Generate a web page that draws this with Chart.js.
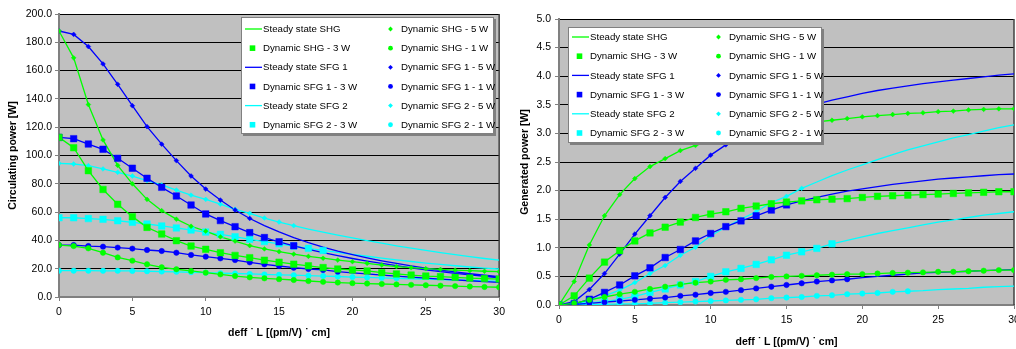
<!DOCTYPE html>
<html><head><meta charset="utf-8">
<script src="https://cdn.jsdelivr.net/npm/chart.js@4.4.1/dist/chart.umd.min.js"></script>
<style>
html,body{margin:0;padding:0;background:#fff;width:1016px;height:349px;overflow:hidden;position:relative}
#c1{position:absolute;left:0;top:0}
#c2{position:absolute;left:510px;top:0}
</style></head><body>
<canvas id="c1" width="510" height="349"></canvas>
<canvas id="c2" width="516" height="349"></canvas>
<script>
// ---------- data ----------
const xValues = [0,1,2,3,4,5,6,7,8,9,10,11,12,13,14,15,16,17,18,19,20,21,22,23,24,25,26,27,28,29,30];
const xTickLabels = [0,5,10,15,20,25,30];
const circTickLabels = [0,20,40,60,80,100,120,140,160,180,200];
const genTickLabels = [0,0.5,1,1.5,2,2.5,3,3.5,4,4.5,5];

// Circulating power [W] (left panel)
const circSHG5 = [188,169,136,111,93,80,69,61,55,50,46.5,42.5,39.5,36.3,34,32,30.3,28.7,27.4,26.1,25,23.8,22.6,21.5,20.7,20,19.5,19,18.6,18.2,17.9];
const circSHG3 = [112.8,105.5,89.3,76,65.5,56.8,49.2,44.5,39.8,36,33.7,31.3,29.4,27.8,26,24.6,23.2,22,20.8,19.8,19.1,18.4,17.2,16.3,15.5,14.8,14.4,13.9,13.4,13,12.7];
const circSHG1 = [36.7,36,34.4,31.3,28,25.7,23.1,21,19.6,18.4,17.2,16,14.8,13.9,13.2,12.6,12,11.3,10.7,10.2,9.8,9.5,9.2,8.9,8.6,8.3,8,7.7,7.4,7.1,6.9];
const circSFG1_5 = [188,185.6,177,164.7,150.3,135.2,120.4,108,96.4,85.5,76.3,68.5,61.5,55.5,50.5,46,42,38.5,35.3,32.5,30,27.7,25.6,23.7,22,20.4,19,17.7,16.5,15.4,14.4];
const circSFG1_3 = [112.8,111.9,108.1,104.4,98,91,83.9,77.5,71.4,65,58.7,54,49.7,45.5,42,39,36.2,33.6,31.3,29.2,27.2,25.4,23.7,22.1,20.6,19.2,17.9,16.7,15.6,14.6,13.6];
const circSFG1_1 = [36.7,36.7,36,35.6,34.9,34.2,33.2,32.5,31.3,29.7,28.5,27.3,26.1,24.5,23.1,21.9,20.7,19.8,19.1,17.9,17.1,16.3,15.5,14.8,14.1,13.4,12.7,12.1,11.5,10.9,10.3];
const circSFG2_5 = [94.5,94,92.8,90.5,88.1,85.5,82.2,79.2,75.6,72,69,65.6,62,59.1,55.8,53,50.4,48,45.8,43.8,41.8,39.8,38,36.2,34.5,32.9,31.3,29.9,28.5,27.2,26];
const circSFG2_3 = [56,56,55.4,54.9,53.9,52.8,51.6,50.2,48.8,47.3,45.9,44.3,42.6,40.8,39.2,37.6,36,34.4,32.9,31.5,30.1,28.8,27.5,26.3,25.1,24,23,22.1,21.2,20.4,19.8];
const circSFG2_1 = [18.6,18.6,18.6,18.5,18.5,18.4,18.2,18,17.8,17.5,17.2,16.9,16.6,16.3,16,15.7,15.4,15.1,14.8,14.5,14.1,13.8,13.5,13.2,12.9,12.6,12.3,12,11.7,11.4,11.1];

// Generated power [W] (right panel)
const genSHG5 = [0,0.41,1.05,1.56,1.93,2.21,2.42,2.56,2.7,2.79,2.87,2.94,3.0,3.05,3.1,3.14,3.17,3.2,3.23,3.26,3.29,3.31,3.33,3.35,3.36,3.38,3.39,3.41,3.42,3.43,3.43];
const genSHG3 = [0,0.16,0.47,0.75,0.95,1.12,1.26,1.36,1.45,1.53,1.59,1.63,1.69,1.73,1.77,1.8,1.82,1.84,1.85,1.86,1.88,1.9,1.91,1.92,1.93,1.94,1.95,1.96,1.97,1.98,1.98];
const genSHG1 = [0,0.03,0.09,0.14,0.19,0.23,0.28,0.32,0.36,0.39,0.41,0.44,0.45,0.47,0.49,0.5,0.51,0.52,0.53,0.54,0.54,0.55,0.56,0.565,0.57,0.58,0.58,0.59,0.6,0.61,0.61];
const genSFG1_5 = [0,0.06,0.27,0.55,0.89,1.24,1.56,1.88,2.16,2.39,2.62,2.8,2.95,3.1,3.22,3.33,3.43,3.51,3.58,3.64,3.7,3.75,3.79,3.83,3.87,3.9,3.93,3.96,3.99,4.02,4.04];
const genSFG1_3 = [0,0.02,0.1,0.22,0.35,0.51,0.65,0.83,0.97,1.12,1.25,1.37,1.47,1.56,1.66,1.75,1.82,1.88,1.94,1.99,2.03,2.07,2.11,2.14,2.17,2.2,2.22,2.24,2.26,2.28,2.29];
const genSFG1_1 = [0,0.01,0.03,0.05,0.07,0.09,0.11,0.13,0.16,0.18,0.21,0.23,0.26,0.29,0.32,0.35,0.38,0.41,0.43,0.45,0.48,0.5,0.52,0.54,0.56,0.57,0.58,0.59,0.6,0.61,0.62];
const genSFG2_5 = [0,0.02,0.08,0.16,0.26,0.39,0.55,0.69,0.87,1.01,1.21,1.36,1.5,1.63,1.79,1.9,2.04,2.15,2.26,2.36,2.45,2.54,2.63,2.71,2.78,2.85,2.92,2.98,3.04,3.1,3.15];
const genSFG2_3 = [0,0.02,0.04,0.06,0.1,0.15,0.22,0.28,0.35,0.41,0.5,0.58,0.64,0.71,0.79,0.87,0.93,0.99,1.07,1.13,1.19,1.25,1.3,1.35,1.4,1.45,1.49,1.53,1.57,1.6,1.63];
const genSFG2_1 = [0,0,0.01,0.01,0.02,0.02,0.03,0.04,0.05,0.06,0.07,0.08,0.09,0.1,0.12,0.13,0.14,0.16,0.17,0.19,0.2,0.21,0.23,0.24,0.25,0.27,0.28,0.29,0.31,0.32,0.33];

// last x index for which dynamic (marker) points exist: [5 W, 3 W, 1 W]
const circMarkerLast = {SHG:[30,30,30], SFG1:[13,16,19], SFG2:[16,18,23]};
const genMarkerLast  = {SHG:[30,30,30], SFG1:[11,15,19], SFG2:[16,18,23]};

const seriesNames = {SHG:'SHG', SFG1:'SFG 1', SFG2:'SFG 2'};
const powerNames = ['5 W','3 W','1 W'];
const xTitle = 'deff ˙ L [(pm/V) ˙ cm]';

// ---------- style ----------
const FONT = "'Liberation Sans', Arial, sans-serif";
const COLORS = {SHG:'#00ff00', SFG1:'#0000ff', SFG2:'#00ffff'};
const PSTYLE = ['rectRot','rect','circle'];
const PRADIUS = [2.4,4.6,2.7];

function pts(arr){ return xValues.map((x,i)=>({x:x, y:arr[i]})); }
function steady(list){
  const out=[];
  list.forEach((arr,k)=>{ if(k) out.push({x:30,y:null}); pts(arr).forEach(p=>out.push(p)); });
  return out;
}
function buildDatasets(curves, last){
  const ds=[];
  ['SHG','SFG1','SFG2'].forEach(key=>{
    const col = COLORS[key];
    ds.push({label:'Steady state '+seriesNames[key], data:steady(curves[key]), showLine:true,
      borderColor:col, backgroundColor:col, borderWidth:1.3, pointRadius:0, pointHoverRadius:0,
      spanGaps:false, order:10, _kind:'line'});
    curves[key].forEach((arr,k)=>{
      ds.push({label:'Dynamic '+seriesNames[key]+' - '+powerNames[k], data:pts(arr).slice(0,last[key][k]+1),
        showLine:false, pointStyle:PSTYLE[k], pointRadius:PRADIUS[k], pointHoverRadius:PRADIUS[k],
        backgroundColor:col, borderColor:col, borderWidth:0.5, order:1, _kind:k});
    });
  });
  return ds;
}

const legendCols = [
  ['Steady state SHG','Dynamic SHG - 3 W','Steady state SFG 1','Dynamic SFG 1 - 3 W','Steady state SFG 2','Dynamic SFG 2 - 3 W'],
  ['Dynamic SHG - 5 W','Dynamic SHG - 1 W','Dynamic SFG 1 - 5 W','Dynamic SFG 1 - 1 W','Dynamic SFG 2 - 5 W','Dynamic SFG 2 - 1 W']
];

function drawMarker(ctx, kind, x, y){
  ctx.beginPath();
  if(kind===0){ const r=2.4; ctx.moveTo(x,y-r); ctx.lineTo(x+r,y); ctx.lineTo(x,y+r); ctx.lineTo(x-r,y); ctx.closePath(); }
  else if(kind===1){ const s=2.8; ctx.rect(x-s,y-s,2*s,2*s); }
  else { ctx.arc(x,y,2.4,0,Math.PI*2); }
  ctx.fill();
}

const bgPlugin = {
  id:'plotBg',
  beforeDraw(chart){
    const {ctx, chartArea:a} = chart;
    ctx.save(); ctx.fillStyle='#c0c0c0'; ctx.fillRect(a.left,a.top,a.right-a.left,a.bottom-a.top); ctx.restore();
  },
  beforeDatasetsDraw(chart){
    const {ctx, chartArea:a} = chart;
    ctx.save(); ctx.strokeStyle='#404040'; ctx.lineWidth=1.5;
    ctx.beginPath(); ctx.moveTo(a.right,a.top); ctx.lineTo(a.right,a.bottom); ctx.stroke(); ctx.restore();
  }
};

const legendPlugin = {
  id:'boxLegend',
  afterDatasetsDraw(chart, args, o){
    const ctx = chart.ctx;
    ctx.save();
    ctx.fillStyle='#808080'; ctx.fillRect(o.x+2,o.y+2,o.w,o.h);
    ctx.fillStyle='#ffffff'; ctx.fillRect(o.x,o.y,o.w,o.h);
    ctx.strokeStyle='#808080'; ctx.lineWidth=1; ctx.strokeRect(o.x+0.5,o.y+0.5,o.w-1,o.h-1);
    ctx.font = '9.7px '+FONT; ctx.textBaseline='middle'; ctx.textAlign='left';
    legendCols.forEach((col,ci)=>{
      col.forEach((label,ri)=>{
        const ds = chart.data.datasets.find(d=>d.label===label);
        const y = o.y + o.firstRow + ri*o.rowH;
        const bx = o.x + (ci===0 ? 0 : o.col2);
        ctx.fillStyle = ds.borderColor; ctx.strokeStyle = ds.borderColor;
        if(ds._kind==='line'){
          ctx.lineWidth=1.3; ctx.beginPath(); ctx.moveTo(bx+4,y); ctx.lineTo(bx+21,y); ctx.stroke();
        } else {
          drawMarker(ctx, ds._kind, bx+11.5, y);
        }
        ctx.fillStyle='#000'; ctx.fillText(label, bx+22, y+0.5);
      });
    });
    ctx.restore();
  }
};

function makeChart(canvas, curves, last, yTicks, yTitle, lay){
  const step = yTicks[1]-yTicks[0];
  return new Chart(canvas, {
    type:'scatter',
    data:{datasets:buildDatasets(curves,last)},
    plugins:[bgPlugin, legendPlugin],
    options:{
      responsive:false, animation:false, events:[],
      layout:{padding:{left:0,right:lay.padRight,top:lay.padTop,bottom:0}},
      plugins:{legend:{display:false}, tooltip:{enabled:false}, boxLegend:lay.legend},
      scales:{
        x:{type:'linear', min:xTickLabels[0], max:xTickLabels[xTickLabels.length-1],
          ticks:{stepSize:xTickLabels[1]-xTickLabels[0], color:'#000', padding:5, maxRotation:0, font:{family:FONT,size:10.5}},
          grid:{drawOnChartArea:false, drawTicks:true, tickLength:4, tickColor:'#808080'},
          border:{color:'#808080', width:2},
          title:{display:true, text:xTitle, color:'#000', font:{family:FONT,size:10.5,weight:'bold'}, padding:{top:0,bottom:lay.xTitlePad}},
          afterFit(s){ s.height = lay.xAxisH; }
        },
        y:{type:'linear', min:yTicks[0], max:yTicks[yTicks.length-1],
          ticks:{stepSize:step, color:'#000', padding:lay.yTickPad, font:{family:FONT,size:10.5}, callback:v=>Number(v).toFixed(1)},
          grid:{color:c=>c.tick && c.tick.value===yTicks[0] ? 'rgba(0,0,0,0)' : '#000', lineWidth:1, drawTicks:true, tickLength:4, tickColor:'#808080'},
          border:{color:'#808080', width:2},
          title:{display:true, text:yTitle, color:'#000', font:{family:FONT,size:10.5,weight:'bold'}, padding:{top:lay.yTitlePad,bottom:0}},
          afterFit(s){ s.width = lay.yAxisW; }
        }
      }
    }
  });
}

makeChart(document.getElementById('c1'),
  {SHG:[circSHG5,circSHG3,circSHG1], SFG1:[circSFG1_5,circSFG1_3,circSFG1_1], SFG2:[circSFG2_5,circSFG2_3,circSFG2_1]},
  circMarkerLast, circTickLabels, 'Circulating power [W]',
  {padRight:8, padTop:14, xAxisH:52, yAxisW:59, xTitlePad:9.7, yTitlePad:7.2, yTickPad:3,
   legend:{x:241, y:17, w:253, h:117, firstRow:12, rowH:19.15, col2:138}});

makeChart(document.getElementById('c2'),
  {SHG:[genSHG5,genSHG3,genSHG1], SFG1:[genSFG1_5,genSFG1_3,genSFG1_1], SFG2:[genSFG2_5,genSFG2_3,genSFG2_1]},
  genMarkerLast, genTickLabels, 'Generated power [W]',
  {padRight:12, padTop:19, xAxisH:44, yAxisW:49, xTitlePad:0.7, yTitlePad:8.7, yTickPad:4,
   legend:{x:58, y:27, w:254, h:116, firstRow:10, rowH:19.2, col2:139}});
</script>
</body></html>
